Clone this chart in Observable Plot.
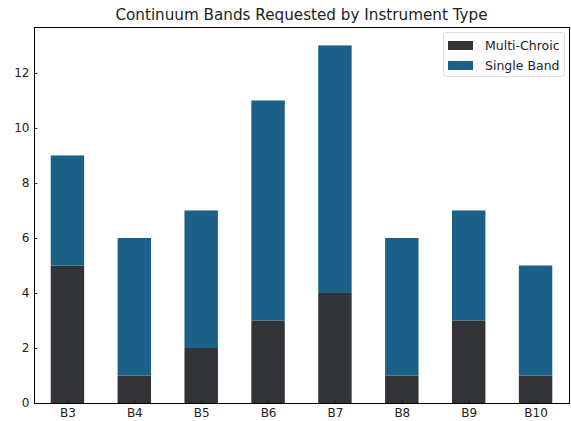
<!DOCTYPE html>
<html><head><meta charset="utf-8">
<script src="https://cdn.jsdelivr.net/npm/d3@7"></script>
<script src="https://cdn.jsdelivr.net/npm/@observablehq/plot@0.6"></script>
<style>
body{margin:0;background:#fff;font-family:"DejaVu Sans",sans-serif;}
#wrap{position:relative;width:571px;height:421px;}
#title{position:absolute;z-index:2;left:34px;width:535px;top:5px;line-height:20px;text-align:center;font-size:15.2px;color:#222;}
#legend{position:absolute;z-index:2;left:443px;top:32px;width:122px;height:45px;border:1px solid #ddd;border-radius:3px;background:rgba(255,255,255,0.8);font-size:12.5px;color:#222;box-sizing:border-box;}
.item{position:absolute;left:4px;display:flex;align-items:center;height:14px;}
.sw{width:25px;height:9px;margin-right:12px;}
</style></head>
<body><div id="wrap"><div id="title">Continuum Bands Requested by Instrument Type</div></div>
<script>
const categories = ["B3","B4","B5","B6","B7","B8","B9","B10"];
const multiChroic = [5,1,2,3,4,1,3,1];
const singleBand = [4,5,5,8,9,5,4,4];
const seriesNames = ["Multi-Chroic","Single Band"];
const seriesColors = ["#323337","#1b6086"];

const rows = [];
categories.forEach((c,i)=>{
  rows.push({band:c, series:seriesNames[0], value:multiChroic[i]});
  rows.push({band:c, series:seriesNames[1], value:singleBand[i]});
});

const chart = Plot.plot({
  width:571, height:421,
  marginTop:27, marginBottom:18, marginLeft:34, marginRight:2,
  style:{fontFamily:"DejaVu Sans", fontSize:"12px", color:"#222", background:"#fff"},
  x:{domain:categories, paddingInner:0.5, paddingOuter:0.25, round:false, label:null},
  y:{domain:[0,13.67], ticks:[0,2,4,6,8,10,12], label:null},
  color:{domain:seriesNames, range:seriesColors},
  marks:[
    Plot.barY(rows, Plot.stackY({x:"band", y:"value", fill:"series", order:seriesNames})),
    Plot.axisY({ticks:[0,2,4,6,8,10,12], tickSize:-3.5, tickPadding:8.5, label:null, fontSize:12}),
    Plot.axisX({tickSize:-3.5, tickPadding:8.5, label:null, fontSize:12}),
    Plot.frame({stroke:"#000", strokeWidth:1})
  ]
});
chart.style.position="absolute"; chart.style.left="0"; chart.style.top="0"; chart.style.zIndex="1";
document.getElementById("wrap").appendChild(chart);
const lg = document.createElement("div");
lg.id="legend";
seriesNames.forEach((n,i)=>{
  const it=document.createElement("div");
  it.className="item"; it.style.top=(5+i*20)+"px";
  it.innerHTML=`<span class="sw" style="background:${seriesColors[i]}"></span><span>${n}</span>`;
  lg.appendChild(it);
});
document.getElementById("wrap").appendChild(lg);
</script></body></html>
